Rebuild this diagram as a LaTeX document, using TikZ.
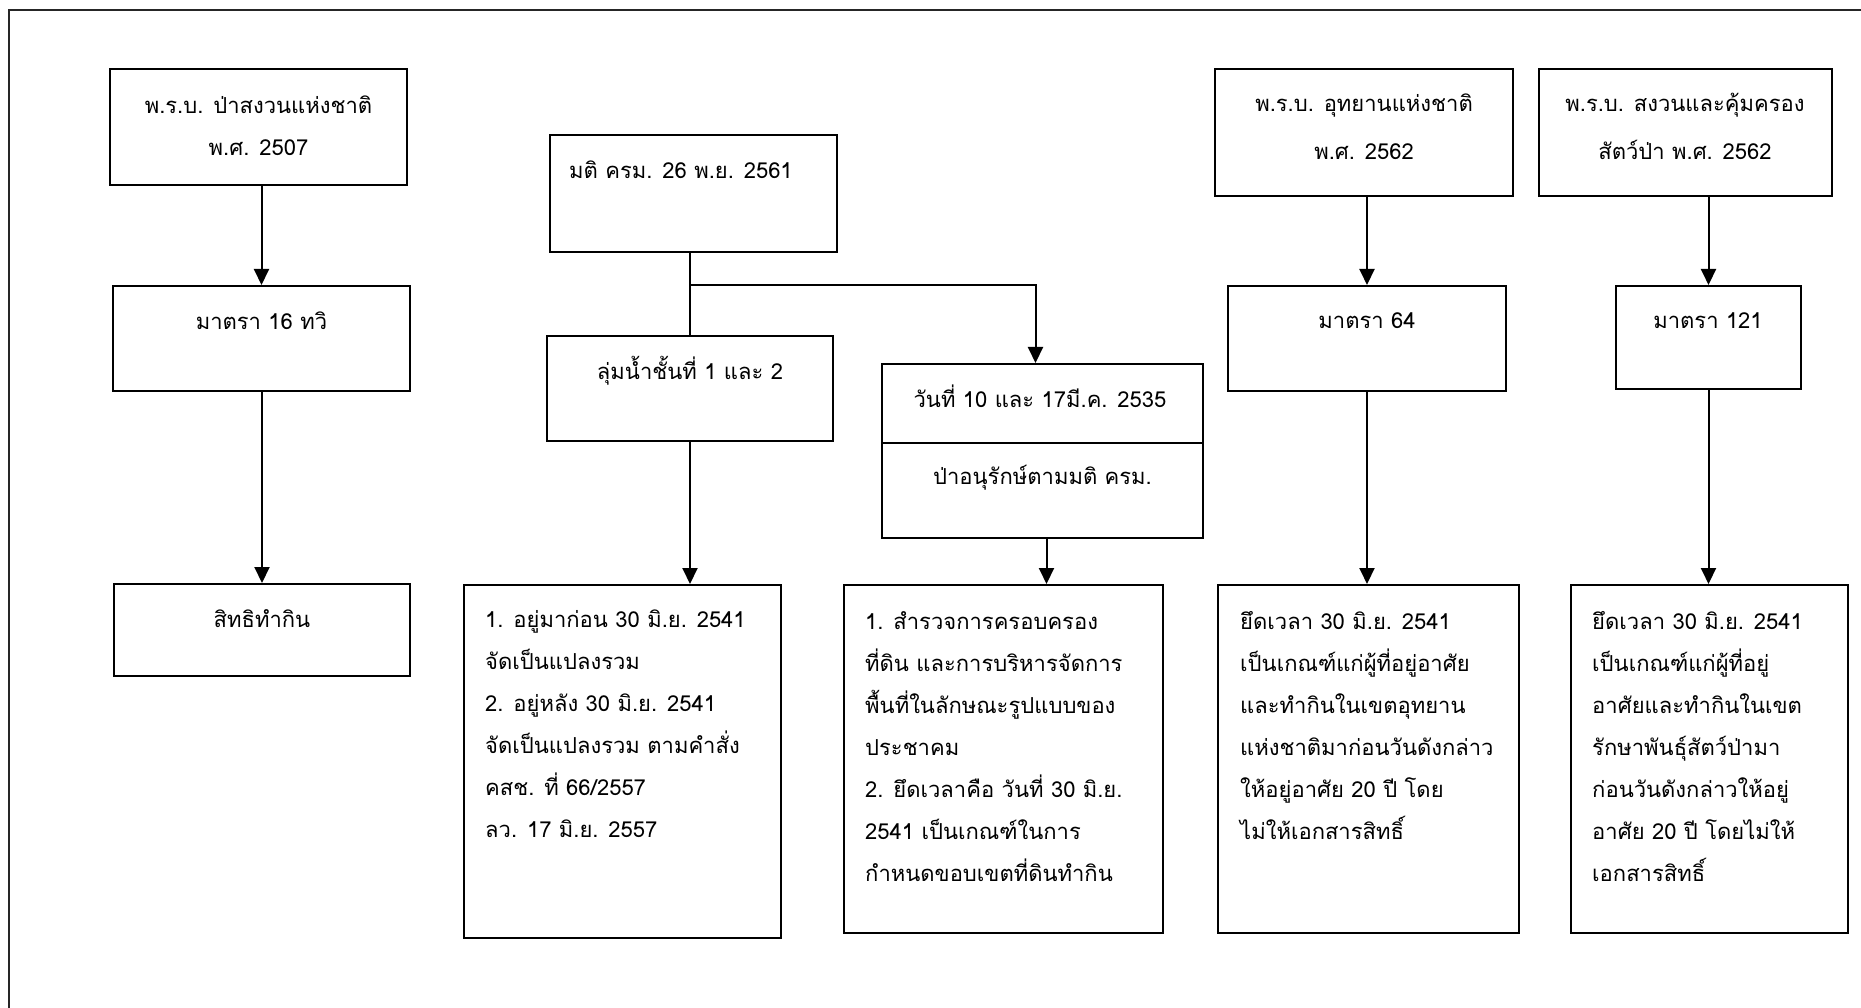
\documentclass[tikz,border=0pt]{standalone}
\usepackage{fontspec}
\setmainfont[Script=Thai]{Loma}
\usetikzlibrary{arrows.meta,fit,calc}
\begin{document}
\begin{tikzpicture}[x=1pt,y=-1pt,
  bx/.style={draw, line width=2pt, inner sep=0pt, rectangle},
  tx/.style={inner sep=0pt, font=\fontsize{22}{42}\selectfont},
  arr/.style={line width=2pt, -{Triangle[width=15pt,length=16pt]}},
  ln/.style={line width=2pt}]
\useasboundingbox (0,0) rectangle (1861,1008);
\fill[white] (0,0) rectangle (1861,1008);
% outer frame (open at right and bottom)
\draw[line width=2.5pt, black!85] (9,1020) -- (9,10) -- (1875,10);

% boxes
\node[bx, fit={(110,69) (407,185)}] (b1) {};
\node[bx, fit={(113,286) (410,391)}] (b2) {};
\node[bx, fit={(114,584) (410,676)}] (b3) {};
\node[bx, fit={(550,135) (837,252)}] (mati) {};
\node[bx, fit={(547,336) (833,441)}] (lum) {};
\node[bx, fit={(882,364) (1203,443)}] (wan) {};
\node[bx, fit={(882,443) (1203,538)}] (pa) {};
\node[bx, fit={(464,585) (781,938)}] (ba) {};
\node[bx, fit={(844,585) (1163,933)}] (bb) {};
\node[bx, fit={(1215,69) (1513,196)}] (ut) {};
\node[bx, fit={(1228,286) (1506,391)}] (m64) {};
\node[bx, fit={(1218,585) (1519,933)}] (bc) {};
\node[bx, fit={(1539,69) (1832,196)}] (sng) {};
\node[bx, fit={(1616,286) (1801,389)}] (m121) {};
\node[bx, fit={(1571,585) (1848,933)}] (bd) {};

% texts
\node[tx, anchor=base] (t1) at (258.5,114) {\parbox[t]{320pt}{\centering พ.ร.บ. ป่าสงวนแห่งชาติ\\พ.ศ. 2507}};
\node[tx, anchor=base] (t2) at (261.5,330) {มาตรา 16 ทวิ};
\node[tx, anchor=base] (t3) at (262,627) {สิทธิทำกิน};
\node[tx, anchor=base west] (tmati) at (569,179) {มติ ครม. 26 พ.ย. 2561};
\node[tx, anchor=base] (tlum) at (690,379) {ลุ่มน้ำชั้นที่ 1 และ 2};
\node[tx, anchor=base] (twan) at (1040,407) {วันที่ 10 และ 17มี.ค. 2535};
\node[tx, anchor=base] (tpa) at (1042.5,484) {ป่าอนุรักษ์ตามมติ ครม.};
\node[tx, anchor=base west] (ta) at (485,627) {\parbox[t]{400pt}{\raggedright
1. อยู่มาก่อน 30 มิ.ย. 2541\\
จัดเป็นแปลงรวม\\
2. อยู่หลัง 30 มิ.ย. 2541\\
จัดเป็นแปลงรวม ตามคำสั่ง\\
คสช. ที่ 66/2557\\
ลว. 17 มิ.ย. 2557}};
\node[tx, anchor=base west] (tb) at (865,629) {\parbox[t]{400pt}{\raggedright
1. สำรวจการครอบครอง\\
ที่ดิน และการบริหารจัดการ\\
พื้นที่ในลักษณะรูปแบบของ\\
ประชาคม\\
2. ยึดเวลาคือ วันที่ 30 มิ.ย.\\
2541 เป็นเกณฑ์ในการ\\
กำหนดขอบเขตที่ดินทำกิน}};
\node[tx, anchor=base] (tut) at (1364,112) {\parbox[t]{320pt}{\centering\baselineskip=48pt พ.ร.บ. อุทยานแห่งชาติ\\พ.ศ. 2562}};
\node[tx, anchor=base] (t64) at (1367,329) {มาตรา 64};
\node[tx, anchor=base west] (tc) at (1240,629) {\parbox[t]{400pt}{\raggedright
ยึดเวลา 30 มิ.ย. 2541\\
เป็นเกณฑ์แก่ผู้ที่อยู่อาศัย\\
และทำกินในเขตอุทยาน\\
แห่งชาติมาก่อนวันดังกล่าว\\
ให้อยู่อาศัย 20 ปี โดย\\
ไม่ให้เอกสารสิทธิ์}};
\node[tx, anchor=base] (tsng) at (1685,112) {\parbox[t]{320pt}{\centering\baselineskip=48pt พ.ร.บ. สงวนและคุ้มครอง\\สัตว์ป่า พ.ศ. 2562}};
\node[tx, anchor=base] (t121) at (1708,329) {มาตรา 121};
\node[tx, anchor=base west] (td) at (1592,629) {\parbox[t]{400pt}{\raggedright
ยึดเวลา 30 มิ.ย. 2541\\
เป็นเกณฑ์แก่ผู้ที่อยู่\\
อาศัยและทำกินในเขต\\
รักษาพันธุ์สัตว์ป่ามา\\
ก่อนวันดังกล่าวให้อยู่\\
อาศัย 20 ปี โดยไม่ให้\\
เอกสารสิทธิ์}};

% connectors
\draw[arr] (b2.north |- b1.south) -- (b2.north);
\draw[arr] (b3.north |- b2.south) -- (b3.north);
\coordinate (br) at (lum.north |- 0,285);
\draw[ln] (lum.north |- mati.south) -- (lum.north);
\draw[arr] (br) -| ([xshift=-7pt]wan.north);
\draw[arr] (lum.south) -- (lum.south |- ba.north);
\draw[arr] ([xshift=4pt]pa.south) -- ([xshift=4pt]pa.south |- bb.north);
\draw[arr] (m64.north |- ut.south) -- (m64.north);
\draw[arr] (m64.south) -- (m64.south |- bc.north);
\draw[arr] (m121.north |- sng.south) -- (m121.north);
\draw[arr] (m121.south) -- (m121.south |- bd.north);
\end{tikzpicture}
\end{document}
